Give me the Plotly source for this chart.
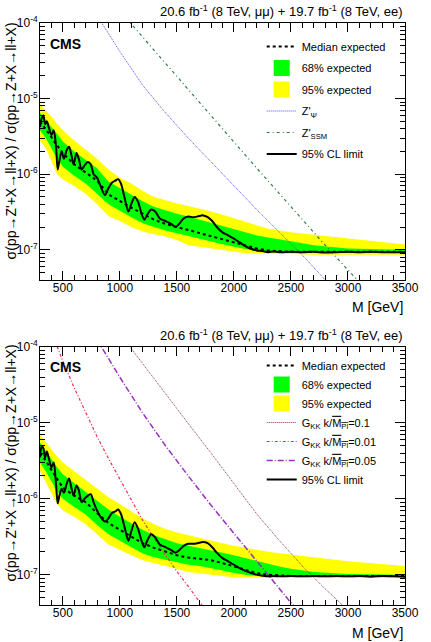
import plotly.graph_objects as go

# ---------------- data ----------------
M_BAND = [300, 350, 400, 450, 500, 600, 700, 800, 900, 1000, 1100, 1200, 1300, 1400,
          1500, 1600, 1700, 1800, 1900, 2000, 2100, 2200, 2300, 2400, 2500, 2700, 3000, 3500]

# top panel (spin-1)
MEDIAN_TOP = [5.0e-6, 4.0e-6, 3.1e-6, 2.4e-6, 1.9e-6, 1.35e-6, 1.05e-6, 8.2e-7, 5.4e-7, 4.4e-7,
              3.6e-7, 3.0e-7, 2.5e-7, 2.2e-7, 2.0e-7, 1.8e-7, 1.65e-7, 1.5e-7, 1.38e-7, 1.25e-7,
              1.13e-7, 1.04e-7, 9.8e-8, 9.5e-8, 9.4e-8, 9.4e-8, 9.4e-8, 9.4e-8]
Y95_HI_TOP = [8.5e-6, 7.0e-6, 5.8e-6, 4.6e-6, 3.8e-6, 2.8e-6, 2.1e-6, 1.6e-6, 1.15e-6, 9.0e-7,
              7.5e-7, 6.0e-7, 5.0e-7, 4.5e-7, 4.1e-7, 3.8e-7, 3.5e-7, 3.2e-7, 2.9e-7, 2.6e-7,
              2.35e-7, 2.1e-7, 1.9e-7, 1.8e-7, 1.7e-7, 1.58e-7, 1.42e-7, 1.17e-7]
G68_HI_TOP = [6.5e-6, 5.3e-6, 4.2e-6, 3.4e-6, 2.7e-6, 2.0e-6, 1.55e-6, 1.2e-6, 8.0e-7, 6.5e-7,
              5.3e-7, 4.4e-7, 3.7e-7, 3.3e-7, 3.0e-7, 2.75e-7, 2.5e-7, 2.3e-7, 2.1e-7, 1.9e-7,
              1.7e-7, 1.55e-7, 1.45e-7, 1.38e-7, 1.3e-7, 1.15e-7, 1.04e-7, 1.0e-7]
G68_LO_TOP = [3.8e-6, 3.0e-6, 2.2e-6, 1.6e-6, 1.25e-6, 9.5e-7, 7.5e-7, 5.5e-7, 4.0e-7, 3.3e-7,
              2.7e-7, 2.25e-7, 2.0e-7, 1.8e-7, 1.65e-7, 1.5e-7, 1.4e-7, 1.28e-7, 1.18e-7, 1.1e-7,
              1.02e-7, 9.6e-8, 9.3e-8, 9.2e-8, 9.2e-8, 9.2e-8, 9.2e-8, 9.2e-8]
Y95_LO_TOP = [2.8e-6, 2.2e-6, 1.5e-6, 1.0e-6, 8.5e-7, 7.0e-7, 5.5e-7, 4.0e-7, 2.8e-7, 2.4e-7,
              2.0e-7, 1.75e-7, 1.6e-7, 1.5e-7, 1.35e-7, 1.15e-7, 1.1e-7, 1.05e-7, 1.0e-7, 9.5e-8,
              9.0e-8, 8.8e-8, 8.8e-8, 8.8e-8, 8.8e-8, 8.6e-8, 8.6e-8, 8.6e-8]

M_OBS = [300, 315, 330, 345, 360, 380, 400, 420, 440, 455, 470, 490, 510, 535, 555, 575, 595,
         620, 640, 665, 690, 720, 745, 770, 800, 830, 870, 900, 930, 960, 985, 1010, 1040,
         1075, 1100, 1130, 1160, 1190, 1215, 1240, 1275, 1310, 1350, 1400, 1450, 1490, 1520,
         1560, 1600, 1640, 1680, 1730, 1770, 1810, 1850, 1900, 1950, 2000, 2050, 2100, 2150,
         2200, 2250, 2300, 2350, 2400, 2500, 2600, 2700, 2800, 2900, 3000, 3100, 3200, 3300,
         3400, 3500]
OBS_TOP = [4.2e-6, 5.5e-6, 6.0e-6, 4.6e-6, 5.0e-6, 4.0e-6, 3.3e-6, 3.8e-6, 2.4e-6, 1.15e-6,
           1.5e-6, 2.0e-6, 1.6e-6, 2.1e-6, 2.3e-6, 1.8e-6, 1.35e-6, 1.9e-6, 1.6e-6, 1.15e-6,
           1.3e-6, 1.45e-6, 1.35e-6, 1.0e-6, 9.0e-7, 7.0e-7, 5.3e-7, 6.5e-7, 7.7e-7, 8.2e-7,
           8.6e-7, 7.5e-7, 5.0e-7, 3.2e-7, 4.0e-7, 5.0e-7, 4.3e-7, 3.0e-7, 2.5e-7, 2.9e-7,
           3.4e-7, 3.2e-7, 2.6e-7, 2.4e-7, 2.2e-7, 2.0e-7, 2.2e-7, 2.6e-7, 2.75e-7, 2.7e-7,
           2.75e-7, 2.85e-7, 2.7e-7, 2.4e-7, 2.0e-7, 1.7e-7, 1.55e-7, 1.4e-7, 1.25e-7, 1.12e-7,
           1.03e-7, 9.8e-8, 9.6e-8, 9.3e-8, 9.5e-8, 9.3e-8, 9.4e-8, 9.3e-8, 9.4e-8, 9.2e-8,
           9.3e-8, 9.4e-8, 9.3e-8, 9.4e-8, 9.3e-8, 9.3e-8, 9.3e-8]

M_ZPSI = [800, 1000, 1200, 1400, 1600, 1800, 2000, 2200, 2400, 2600, 2800, 3000]
ZPSI = [1.25e-4, 4.2e-5, 1.5e-5, 6.5e-6, 3.0e-6, 1.45e-6, 7.0e-7, 3.4e-7, 1.7e-7, 8.5e-8, 4.0e-8, 1.9e-8]
M_ZSSM = [1000, 1200, 1400, 1600, 1800, 2000, 2200, 2400, 2600, 2800, 3000, 3200]
ZSSM = [1.45e-4, 6.5e-5, 2.9e-5, 1.3e-5, 6.0e-6, 2.7e-6, 1.2e-6, 5.5e-7, 2.5e-7, 1.15e-7, 5.4e-8, 2.6e-8]

# bottom panel (spin-2)
MEDIAN_BOT = [4.0e-6, 3.2e-6, 2.4e-6, 1.8e-6, 1.4e-6, 1.1e-6, 9.0e-7, 6.5e-7, 4.8e-7, 3.9e-7,
              3.2e-7, 2.6e-7, 2.25e-7, 2.0e-7, 1.8e-7, 1.68e-7, 1.6e-7, 1.55e-7, 1.42e-7, 1.28e-7,
              1.15e-7, 1.05e-7, 1.0e-7, 9.7e-8, 9.6e-8, 9.6e-8, 9.6e-8, 9.6e-8]
Y95_HI_BOT = [7.0e-6, 5.6e-6, 4.5e-6, 3.6e-6, 3.0e-6, 2.3e-6, 1.75e-6, 1.35e-6, 1.05e-6, 8.5e-7,
              6.8e-7, 5.5e-7, 4.6e-7, 4.0e-7, 3.6e-7, 3.3e-7, 3.05e-7, 2.8e-7, 2.6e-7, 2.4e-7,
              2.25e-7, 2.1e-7, 2.0e-7, 1.92e-7, 1.85e-7, 1.7e-7, 1.5e-7, 1.3e-7]
G68_HI_BOT = [5.5e-6, 4.3e-6, 3.3e-6, 2.6e-6, 2.1e-6, 1.6e-6, 1.25e-6, 9.5e-7, 7.2e-7, 5.8e-7,
              4.7e-7, 3.9e-7, 3.3e-7, 2.9e-7, 2.6e-7, 2.4e-7, 2.25e-7, 2.1e-7, 1.95e-7, 1.8e-7,
              1.65e-7, 1.5e-7, 1.38e-7, 1.28e-7, 1.2e-7, 1.08e-7, 1.02e-7, 1.0e-7]
G68_LO_BOT = [3.0e-6, 2.3e-6, 1.7e-6, 1.25e-6, 1.0e-6, 7.8e-7, 6.2e-7, 4.5e-7, 3.4e-7, 2.8e-7,
              2.3e-7, 1.9e-7, 1.7e-7, 1.55e-7, 1.45e-7, 1.35e-7, 1.3e-7, 1.22e-7, 1.13e-7, 1.05e-7,
              1.0e-7, 9.6e-8, 9.4e-8, 9.4e-8, 9.4e-8, 9.4e-8, 9.4e-8, 9.4e-8]
Y95_LO_BOT = [2.3e-6, 1.7e-6, 1.2e-6, 8.5e-7, 7.0e-7, 5.8e-7, 4.6e-7, 3.4e-7, 2.5e-7, 2.1e-7,
              1.8e-7, 1.55e-7, 1.4e-7, 1.3e-7, 1.2e-7, 1.08e-7, 1.03e-7, 1.0e-7, 9.6e-8, 9.2e-8,
              9.0e-8, 9.0e-8, 9.0e-8, 9.0e-8, 9.0e-8, 9.0e-8, 9.0e-8, 9.0e-8]
OBS_BOT = [3.5e-6, 5.0e-6, 4.6e-6, 3.5e-6, 4.2e-6, 3.3e-6, 2.6e-6, 3.0e-6, 1.6e-6, 8.7e-7,
           1.1e-6, 1.35e-6, 1.2e-6, 1.6e-6, 1.85e-6, 1.4e-6, 1.1e-6, 1.5e-6, 1.3e-6, 9.0e-7,
           1.0e-6, 1.1e-6, 1.15e-6, 9.0e-7, 7.0e-7, 5.8e-7, 5.0e-7, 5.5e-7, 6.5e-7, 6.8e-7,
           7.2e-7, 6.3e-7, 4.3e-7, 2.8e-7, 3.7e-7, 4.9e-7, 4.0e-7, 2.8e-7, 2.3e-7, 2.8e-7,
           3.4e-7, 3.1e-7, 2.5e-7, 2.3e-7, 2.1e-7, 1.95e-7, 2.1e-7, 2.4e-7, 2.55e-7, 2.55e-7,
           2.6e-7, 2.7e-7, 2.6e-7, 2.3e-7, 1.95e-7, 1.65e-7, 1.5e-7, 1.35e-7, 1.22e-7, 1.12e-7,
           1.05e-7, 1.0e-7, 9.7e-8, 9.5e-8, 9.6e-8, 9.5e-8, 9.6e-8, 9.5e-8, 9.6e-8, 9.5e-8,
           9.6e-8, 9.5e-8, 9.6e-8, 9.4e-8, 9.6e-8, 9.5e-8, 9.4e-8]

M_G01 = [1000, 1200, 1400, 1600, 1800, 2000, 2200, 2400, 2600, 2800, 3000, 3200]
G01 = [1.5e-4, 6.0e-5, 2.4e-5, 9.8e-6, 4.0e-6, 1.6e-6, 6.3e-7, 2.8e-7, 1.3e-7, 6.5e-8, 3.4e-8, 1.6e-8]
M_G001 = [400, 500, 600, 700, 800, 900, 1000, 1100, 1200, 1300, 1400, 1500, 1600, 1700, 1800]
G001 = [1.6e-4, 6.5e-5, 2.9e-5, 1.35e-5, 6.6e-6, 3.4e-6, 1.8e-6, 9.5e-7, 5.2e-7, 3.0e-7,
        1.8e-7, 1.1e-7, 7.0e-8, 4.3e-8, 2.7e-8]
M_G005 = [800, 900, 1000, 1200, 1400, 1600, 1800, 2000, 2200, 2400, 2600]
G005 = [1.25e-4, 7.0e-5, 4.0e-5, 1.35e-5, 5.0e-6, 2.0e-6, 8.2e-7, 3.5e-7, 1.5e-7, 6.5e-8, 2.8e-8]

X_TICKS = [500, 1000, 1500, 2000, 2500, 3000, 3500]
Y_TICKS = [1e-7, 1e-6, 1e-5, 1e-4]
Y_TICK_TEXT = ["10<sup>-7</sup>", "10<sup>-6</sup>", "10<sup>-5</sup>", "10<sup>-4</sup>"]
LUMI = "20.6 fb<sup>-1</sup> (8 TeV, μμ) + 19.7 fb<sup>-1</sup> (8 TeV, ee)"
YTITLE = "σ(pp→Z'+X→ll+X) / σ(pp→Z+X→ll+X)"

# ---------------- figure ----------------
FONT = "Liberation Sans, Arial, Helvetica, sans-serif"
YELLOW = "#ffff00"
GREEN = "#00ff00"

fig = go.Figure()


def panel(xa, ya, leg, median, g_lo, g_hi, y_lo, y_hi, obs, models):
    fig.add_trace(go.Scatter(x=M_BAND + M_BAND[::-1], y=y_hi + y_lo[::-1], fill="toself",
                             fillcolor=YELLOW, mode="lines", line=dict(width=0),
                             hoverinfo="skip", showlegend=False, xaxis=xa, yaxis=ya))
    fig.add_trace(go.Scatter(x=M_BAND + M_BAND[::-1], y=g_hi + g_lo[::-1], fill="toself",
                             fillcolor=GREEN, mode="lines", line=dict(width=0),
                             hoverinfo="skip", showlegend=False, xaxis=xa, yaxis=ya))
    fig.add_trace(go.Scatter(x=M_BAND, y=median, mode="lines", name="Median expected",
                             line=dict(color="black", width=2, dash="dot"),
                             legend=leg, legendgroup=leg + "1", xaxis=xa, yaxis=ya))
    fig.add_trace(go.Scatter(x=[None], y=[None], mode="markers", name="68% expected",
                             marker=dict(symbol="square", size=16, color=GREEN),
                             legend=leg, legendgroup=leg + "2", xaxis=xa, yaxis=ya))
    fig.add_trace(go.Scatter(x=[None], y=[None], mode="markers", name="95% expected",
                             marker=dict(symbol="square", size=16, color=YELLOW),
                             legend=leg, legendgroup=leg + "3", xaxis=xa, yaxis=ya))
    for i, (mx, my, name, color, dash, width) in enumerate(models):
        fig.add_trace(go.Scatter(x=mx, y=my, mode="lines", name=name,
                                 line=dict(color=color, width=width, dash=dash),
                                 legend=leg, legendgroup=leg + "m" + str(i), xaxis=xa, yaxis=ya))
    fig.add_trace(go.Scatter(x=M_OBS, y=obs, mode="lines", name="95% CL limit",
                             line=dict(color="black", width=2, shape="spline", smoothing=0.8),
                             legend=leg, legendgroup=leg + "z", xaxis=xa, yaxis=ya))


panel("x", "y", "legend", MEDIAN_TOP, G68_LO_TOP, G68_HI_TOP, Y95_LO_TOP, Y95_HI_TOP, OBS_TOP,
      [(M_ZPSI, ZPSI, "Z'<sub>Ψ</sub>", "#5050f0", "1px,1px", 1),
       (M_ZSSM, ZSSM, "Z'<sub>SSM</sub>", "#2f7f3f", "3px,3px,1px,3px", 1.2)])

OVL = '<span style="text-decoration:overline">M<sub>Pl</sub></span>'
panel("x2", "y2", "legend2", MEDIAN_BOT, G68_LO_BOT, G68_HI_BOT, Y95_LO_BOT, Y95_HI_BOT, OBS_BOT,
      [(M_G01, G01, "G<sub>KK</sub> k/" + OVL + "=0.1", "#8b3a4a", "1px,1px", 1),
       (M_G001, G001, "G<sub>KK</sub> k/" + OVL + "=0.01", "#f03050", "3px,2px,1px,2px", 1.2),
       (M_G005, G005, "G<sub>KK</sub> k/" + OVL + "=0.05", "#9a30c0", "6px,2px,1px,2px", 1.5)])

Y_MINOR = [k * 10.0 ** e for e in range(-8, -4) for k in range(2, 10)]

xcommon = dict(range=[300, 3500], tickmode="linear", tick0=500, dtick=500,
               ticks="inside", ticklen=9, tickwidth=1, tickcolor="black",
               showline=True, linecolor="black", linewidth=1, mirror="allticks",
               showgrid=False, zeroline=False, tickfont=dict(size=12), ticklabelstandoff=-3,
               minor=dict(dtick=100, tick0=0, ticks="inside", ticklen=5, tickcolor="black",
                          showgrid=False))
ycommon = dict(type="log", range=[-7.4, -4], tickmode="array", tickvals=Y_TICKS,
               ticktext=Y_TICK_TEXT, ticks="inside", ticklen=10, tickwidth=1,
               tickcolor="black", showline=True, linecolor="black", linewidth=1,
               mirror="allticks", showgrid=False, zeroline=False, tickfont=dict(size=12),
               ticklabelstandoff=-1,
               minor=dict(tickmode="array", tickvals=Y_MINOR, ticks="inside", ticklen=5,
                          tickcolor="black", showgrid=False))

H_PLOT = 582.0


def py(pix):
    return (605.0 - pix) / H_PLOT


def px(pix):
    return (pix - 40.0) / 377.0


fig.update_layout(
    width=431, height=642, margin=dict(l=40, r=14, t=23, b=37),
    paper_bgcolor="white", plot_bgcolor="white",
    font=dict(family=FONT, size=12, color="black"),
    xaxis=dict(domain=[0, 1], anchor="y", **xcommon),
    yaxis=dict(domain=[py(280), 1], anchor="x", **ycommon),
    xaxis2=dict(domain=[0, 1], anchor="y2", **xcommon),
    yaxis2=dict(domain=[0, py(347)], anchor="x2", **ycommon),
    legend=dict(x=px(269), y=py(32), xanchor="left", yanchor="top", bgcolor="rgba(0,0,0,0)",
                font=dict(size=11), tracegroupgap=2.5, itemwidth=30),
    legend2=dict(x=px(269), y=py(351), xanchor="left", yanchor="top", bgcolor="rgba(0,0,0,0)",
                 font=dict(size=11), tracegroupgap=0, itemwidth=30),
    showlegend=True,
)

annots = []
for (ylumi, ycms, ygev, ytitle) in [(11, 44, 307, 20), (335, 367, 633, 342)]:
    annots.append(dict(text=LUMI, x=1.0, y=py(ylumi), xref="paper", yref="paper",
                       xanchor="right", yanchor="middle", showarrow=False, font=dict(size=13)))
    annots.append(dict(text="<b>CMS</b>", x=px(48), y=py(ycms), xref="paper", yref="paper",
                       xanchor="left", yanchor="middle", showarrow=False, font=dict(size=14)))
    annots.append(dict(text="M [GeV]", x=1.0, y=py(ygev), xref="paper", yref="paper",
                       xanchor="right", yanchor="middle", showarrow=False, font=dict(size=14)))
    annots.append(dict(text=YTITLE, x=px(10), y=py(ytitle), xref="paper", yref="paper",
                       xanchor="center", yanchor="top", textangle=-90, showarrow=False,
                       font=dict(size=14)))
fig.update_layout(annotations=annots)

fig.write_html("out.html")
